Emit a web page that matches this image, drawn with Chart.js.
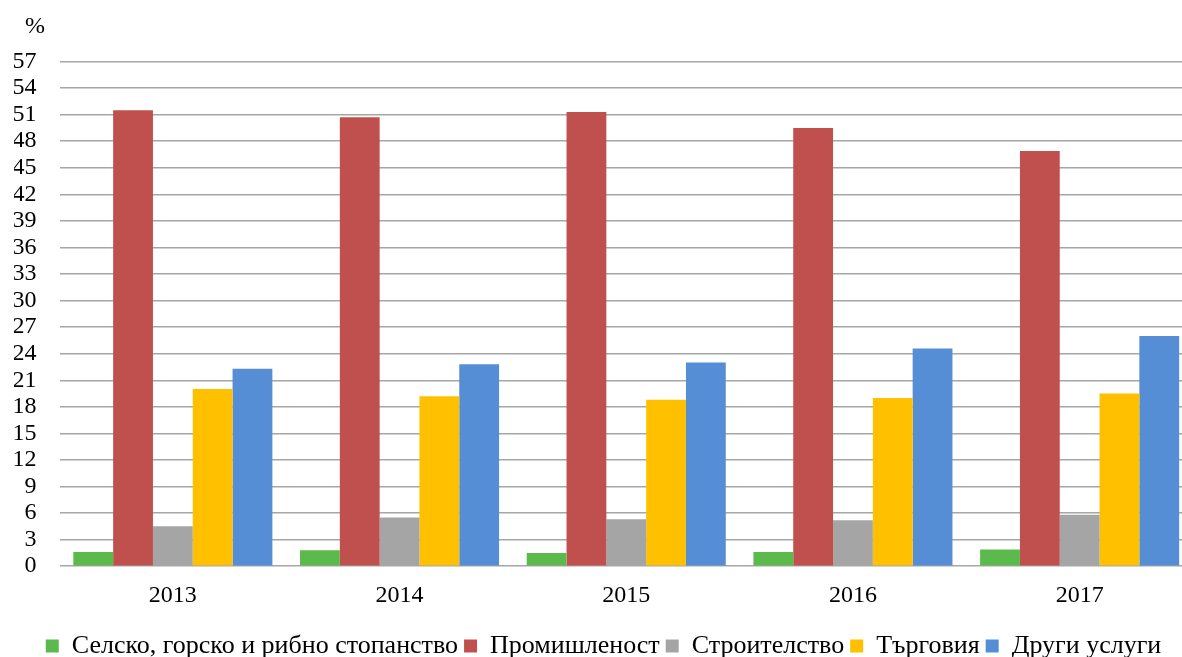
<!DOCTYPE html>
<html>
<head>
<meta charset="utf-8">
<script src="https://cdn.jsdelivr.net/npm/chart.js@4/dist/chart.umd.min.js"></script>
<style>
html,body{margin:0;padding:0;background:#fff;overflow:hidden;}
#wrap{position:relative;width:1193px;height:657px;}
</style>
</head>
<body>
<div id="wrap"><canvas id="c"></canvas></div>
<script>
const years = ['2013','2014','2015','2016','2017'];
const seriesNames = ['Селско, горско и рибно стопанство','Промишленост','Строителство','Търговия','Други услуги'];
const agriculture = [1.6, 1.8, 1.5, 1.6, 1.9];
const industry = [51.5, 50.7, 51.3, 49.5, 46.9];
const construction = [4.5, 5.5, 5.3, 5.2, 5.8];
const trade = [20.0, 19.2, 18.8, 19.0, 19.5];
const otherServices = [22.3, 22.8, 23.0, 24.6, 26.0];
const yTicks = [0,3,6,9,12,15,18,21,24,27,30,33,36,39,42,45,48,51,54,57];
const unitLabel = '%';

const colors = ['#5cb94c','#c0504d','#a5a5a5','#ffc000','#558ed5'];
const seriesData = [agriculture, industry, construction, trade, otherServices];

const FONT = "'Liberation Serif', 'Times New Roman', serif";

const unitPlugin = {
  id: 'unitLabel',
  afterDraw(chart) {
    const ctx = chart.ctx;
    ctx.save();
    ctx.font = '24px ' + FONT;
    ctx.fillStyle = '#000';
    ctx.textAlign = 'left';
    ctx.textBaseline = 'middle';
    ctx.fillText(unitLabel, 25, 27);
    ctx.restore();
  }
};

new Chart(document.getElementById('c'), {
  type: 'bar',
  data: {
    labels: years,
    datasets: seriesNames.map((n, i) => ({
      label: n,
      data: seriesData[i],
      backgroundColor: colors[i],
      borderWidth: 0,
      barPercentage: 1.0,
      categoryPercentage: 0.878
    }))
  },
  options: {
    responsive: true,
    maintainAspectRatio: false,
    animation: false,
    layout: { padding: { top: 61.5, left: 14, right: 0, bottom: -12 } },
    plugins: {
      legend: {
        position: 'bottom',
        labels: {
          font: { family: FONT, size: 26 },
          color: '#000',
          boxWidth: 13,
          boxHeight: 13,
          padding: 6
        }
      },
      tooltip: { enabled: false }
    },
    scales: {
      x: {
        afterFit(scale) { scale.height += 2; },
        grid: { display: false, drawTicks: false },
        border: { display: false },
        ticks: { font: { family: FONT, size: 24 }, color: '#000', padding: 15 }
      },
      y: {
        min: 0,
        max: 57,
        afterBuildTicks(scale) { scale.ticks = yTicks.map(v => ({ value: v })); },
        afterFit(scale) { scale.width = 45.5; },
        grid: { color: '#a6a6a6', lineWidth: 1.5, drawTicks: false },
        border: { display: false },
        ticks: { font: { family: FONT, size: 24 }, color: '#000', padding: 23, autoSkip: false }
      }
    }
  },
  plugins: [unitPlugin]
});
</script>
</body>
</html>
